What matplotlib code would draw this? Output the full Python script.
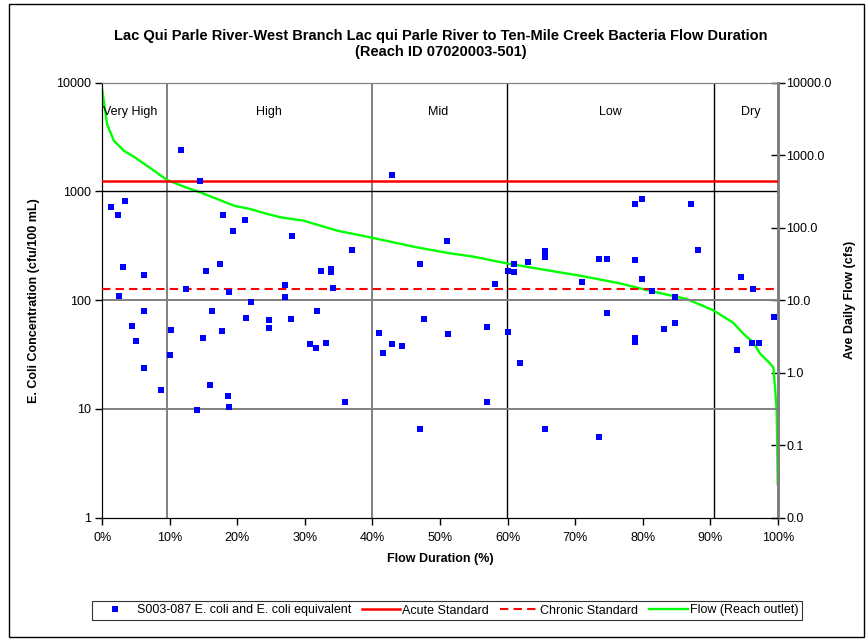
import matplotlib
matplotlib.use("Agg")
import matplotlib.pyplot as plt
from matplotlib.patches import Rectangle
from matplotlib.ticker import FixedLocator, FuncFormatter, NullLocator

plt.rcParams['font.family'] = ['Liberation Sans', 'DejaVu Sans']

# ---- data ----
ecoli_pct = [1.3, 3.4, 2.3, 3.1, 6.2, 2.5, 6.2, 4.4, 5.0, 6.2, 8.7, 10.0, 10.1,
             11.6, 12.4, 14.5, 14.0, 14.9, 15.3, 16.0, 16.3, 17.4, 17.8, 17.7,
             18.6, 18.8, 18.8, 19.4, 21.1, 21.3, 22.0, 24.7, 24.7, 27.1, 27.0,
             28.1, 28.0, 30.8, 31.7, 31.8, 32.4, 33.1, 33.9, 33.9, 34.1, 35.9,
             37.0, 40.9, 41.6, 42.9, 42.9, 44.4, 47.1, 47.1, 47.7, 51.1, 51.2,
             56.9, 56.9, 58.1, 60.1, 60.1, 60.9, 60.9, 61.8, 63.1, 65.5, 65.5,
             65.5, 71.0, 73.6, 73.6, 74.7, 74.8, 78.9, 79.9, 78.9, 79.9, 78.9,
             78.9, 81.4, 83.2, 84.8, 84.8, 87.1, 88.2, 94.0, 94.6, 96.3, 96.2,
             97.3, 99.5]
ecoli_val = [724, 822, 611, 200, 169, 110, 80, 58, 42, 24, 15, 31.5, 53,
             2400, 128, 1260, 9.7, 45, 187, 16.7, 80, 217, 607, 52,
             13.2, 10.5, 118, 433, 546, 68.6, 96, 66, 56, 139, 107,
             386, 67.6, 39.2, 36.6, 79, 184, 40.7, 192, 183, 129, 11.5,
             290, 50, 32.4, 1405, 39.2, 37.9, 217, 6.5, 67.6, 352, 49,
             57, 11.5, 141, 187, 51.3, 217, 183, 26.2, 225, 285, 251,
             6.5, 148, 237, 5.5, 237, 76, 767, 852, 234, 157, 45,
             41, 121, 54, 107, 61.7, 771, 290, 35, 163, 126, 40.7,
             40.7, 70]

flow_pct = [0, 0.7, 1.7, 3.2, 4.7, 7.1, 9.6, 12.1, 14.5, 17.0, 19.5, 21.9,
            24.4, 26.4, 29.8, 34.8, 39.7, 46.6, 51.5, 55.0, 59.9, 64.8, 70.7,
            76.6, 81.0, 86.5, 90.4, 93.4, 94.9, 96.4, 97.4, 98.9, 99.35, 99.6,
            99.85, 99.94, 100]
flow_cfs = [7800, 2700, 1590, 1150, 950, 665, 455, 368, 307, 249, 201, 181,
            155, 139, 125, 91, 73.5, 53.5, 44.3, 39.8, 32.2, 26.9, 21.8,
            17.1, 13.5, 10.4, 7.3, 4.9, 3.45, 2.6, 1.83, 1.33, 1.18, 0.63,
            0.30, 0.084, 0.029]

acute_std = 1260
chronic_std = 126

zone_bounds = [9.6, 39.9, 59.9, 90.6]
zone_colors = ['#808080', '#808080', '#000000', '#000000']
zone_names = ['Very High', 'High', 'Mid', 'Low', 'Dry']
zone_label_x = [4.2, 24.6, 49.7, 75.2, 96.0]

grid_vals = [10, 100, 1000]
grid_colors = ['#808080', '#808080', '#000000']

x_ticks = list(range(0, 101, 10))
left_ticks = [1, 10, 100, 1000, 10000]
right_ticks = [0.01, 0.1, 1, 10, 100, 1000, 10000]

title = ("Lac Qui Parle River-West Branch Lac qui Parle River to Ten-Mile Creek Bacteria Flow Duration\n"
         "(Reach ID 07020003-501)")

FS = 9

# ---- figure ----
fig = plt.figure(figsize=(8.67, 6.40), dpi=100)
fig.patches.append(Rectangle((9 / 867, 3 / 640), (864 - 9) / 867, (636 - 3) / 640,
                             transform=fig.transFigure, fill=False,
                             edgecolor='black', linewidth=1.0))

axf = fig.add_axes([102.3 / 867, 1 - 517.7 / 640, (777.7 - 102.3) / 867, (517.7 - 82.7) / 640])
axe = axf.twinx()

axf.set_xlim(0, 100)
axf.set_yscale('log')
axf.set_ylim(0.01, 10000)
axe.set_xlim(0, 100)
axe.set_yscale('log')
axe.set_ylim(1, 10000)

# flow ticks on right
axf.yaxis.tick_right()
axf.yaxis.set_label_position('right')
axf.yaxis.set_major_locator(FixedLocator(right_ticks))
axf.yaxis.set_minor_locator(NullLocator())
axf.yaxis.set_major_formatter(FuncFormatter(lambda v, p: f"{v:.1f}"))
axf.tick_params(axis='y', which='major', direction='inout', length=10, width=1.0,
                color='#000000', labelsize=FS, pad=1)
axf.set_ylabel('Ave Daily Flow (cfs)', fontsize=FS, fontweight='bold', labelpad=9)

# e. coli ticks on left
axe.yaxis.tick_left()
axe.yaxis.set_label_position('left')
axe.yaxis.set_major_locator(FixedLocator(left_ticks))
axe.yaxis.set_minor_locator(NullLocator())
axe.yaxis.set_major_formatter(FuncFormatter(lambda v, p: f"{v:g}"))
axe.tick_params(axis='y', which='major', direction='out', length=5, width=1.0,
                labelsize=FS, pad=3)
axe.set_ylabel('E. Coli Concentration (cfu/100 mL)', fontsize=FS, fontweight='bold',
               labelpad=12)

axf.set_xticks(x_ticks)
axf.set_xticklabels([f"{t}%" for t in x_ticks])
axf.tick_params(axis='x', direction='out', length=5, width=1.0, labelsize=FS, pad=5)
axf.set_xlabel('Flow Duration (%)', fontsize=FS, fontweight='bold', labelpad=7)

for a in (axf, axe):
    a.spines['top'].set_color('#808080')
    a.spines['right'].set_color('#808080')
    a.spines['right'].set_linewidth(2.0)
    a.spines['left'].set_color('black')
    a.spines['bottom'].set_color('black')

# grid / zone lines
for g, c in zip(grid_vals, grid_colors):
    axe.axhline(g, color=c, linewidth=1.0 if c == '#000000' else 1.4, zorder=1)
for b, c in zip(zone_bounds, zone_colors):
    axf.axvline(b, color=c, linewidth=1.0 if c == '#000000' else 1.4, zorder=1)

for name, xl in zip(zone_names, zone_label_x):
    axe.text(xl, 5400, name, ha='center', va='center', fontsize=FS, zorder=2)

# series
flow_line, = axf.plot(flow_pct, flow_cfs, color='#00FF00', linewidth=1.7, zorder=3)
acute = axe.axhline(acute_std, color='#FF0000', linewidth=1.8, zorder=3)
chronic = axe.axhline(chronic_std, color='#FF0000', linewidth=1.5, dashes=(4, 2.5), zorder=3)
pts, = axe.plot(ecoli_pct, ecoli_val, linestyle='none', marker='s', markersize=4.8,
                color='#0000FF', markeredgewidth=0, zorder=5)

fig.text(441 / 867, 1 - 44 / 640, title, ha='center', va='center', fontsize=10.5,
         fontweight='bold', linespacing=1.25)

leg = fig.legend([pts, acute, chronic, flow_line],
                 ['S003-087 E. coli and E. coli equivalent', 'Acute Standard',
                  'Chronic Standard', 'Flow (Reach outlet)'],
                 loc='center', bbox_to_anchor=(447 / 867, 1 - 610.5 / 640), ncol=4,
                 fontsize=FS, frameon=True, fancybox=False, edgecolor='black',
                 handlelength=3.1, handletextpad=0.15, columnspacing=0.85,
                 borderpad=0.3, markerscale=0.9)
leg.get_frame().set_linewidth(0.8)

fig.savefig('out.png', dpi=100)
